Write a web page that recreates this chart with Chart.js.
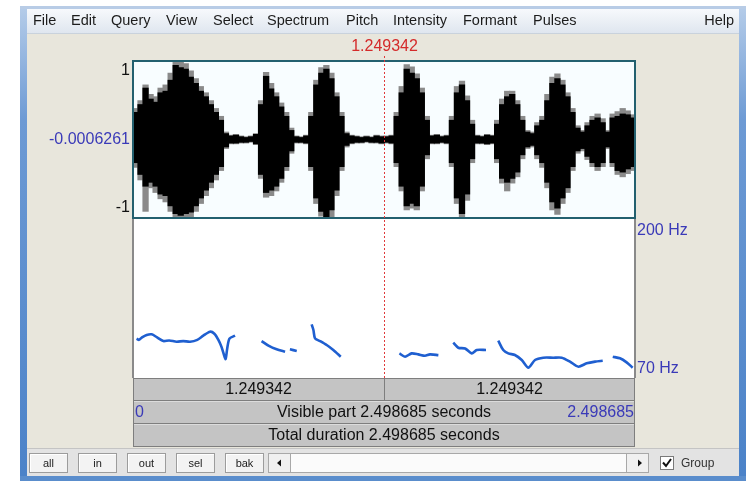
<!DOCTYPE html>
<html>
<head>
<meta charset="utf-8">
<script src="https://cdn.jsdelivr.net/npm/chart.js@4.4.1/dist/chart.umd.min.js"></script>
<style>
  html, body { margin: 0; padding: 0; background: #ffffff; }
  canvas { display: block; }
</style>
</head>
<body>
<canvas id="praat" width="748" height="482"></canvas>
<script>
// ---- Sound & pitch data -------------------------------------------------
const totalDuration = 2.498685;      // seconds
const cursorTime = 1.249342;         // seconds
const waveCentreValue = -0.0006261;  // value at the middle of the waveform panel
const waveBinWidth = 0.025;          // seconds per amplitude column
const pitchFloor = 70;               // Hz
const pitchCeiling = 200;            // Hz

// Dense (black) amplitude envelope per column
const waveHi = [
  0.35, 0.45, 0.66, 0.52, 0.48, 0.60, 0.62, 0.76, 0.95, 0.92,
  0.90, 0.80, 0.72, 0.62, 0.55, 0.45, 0.35, 0.25, 0.08, 0.05,
  0.06, 0.04, 0.03, 0.04, 0.07, 0.45, 0.81, 0.65, 0.55, 0.42,
  0.30, 0.12, 0.04, 0.03, 0.05, 0.30, 0.70, 0.85, 0.90, 0.78,
  0.55, 0.30, 0.08, 0.05, 0.04, 0.03, 0.04, 0.03, 0.05, 0.04,
  0.04, 0.05, 0.30, 0.60, 0.90, 0.85, 0.78, 0.60, 0.25, 0.05,
  0.06, 0.04, 0.05, 0.25, 0.60, 0.70, 0.50, 0.20, 0.05, 0.04,
  0.06, 0.05, 0.20, 0.45, 0.55, 0.58, 0.45, 0.25, 0.10, 0.08,
  0.18, 0.25, 0.50, 0.72, 0.78, 0.70, 0.55, 0.35, 0.15, 0.10,
  0.18, 0.25, 0.28, 0.22, 0.10, 0.28, 0.30, 0.33, 0.32, 0.28
];
const waveLo = [
  -0.30, -0.45, -0.60, -0.55, -0.60, -0.70, -0.72, -0.85, -0.95, -0.97,
  -0.95, -0.93, -0.85, -0.75, -0.65, -0.55, -0.45, -0.35, -0.10, -0.05,
  -0.05, -0.04, -0.04, -0.03, -0.06, -0.45, -0.68, -0.65, -0.60, -0.50,
  -0.35, -0.15, -0.04, -0.04, -0.05, -0.35, -0.75, -0.92, -1.00, -0.90,
  -0.65, -0.35, -0.08, -0.05, -0.04, -0.04, -0.03, -0.04, -0.04, -0.05,
  -0.04, -0.05, -0.30, -0.60, -0.85, -0.82, -0.85, -0.60, -0.20, -0.05,
  -0.05, -0.04, -0.05, -0.30, -0.75, -0.95, -0.70, -0.25, -0.05, -0.05,
  -0.06, -0.05, -0.25, -0.50, -0.55, -0.50, -0.42, -0.20, -0.10, -0.08,
  -0.20, -0.30, -0.55, -0.80, -0.88, -0.75, -0.62, -0.35, -0.15, -0.12,
  -0.22, -0.30, -0.35, -0.30, -0.10, -0.30, -0.40, -0.42, -0.38, -0.35
];
// Outer (grey) peaks per column
const peakHi = [
  0.40, 0.50, 0.70, 0.58, 0.55, 0.66, 0.70, 0.85, 1.00, 1.00,
  0.97, 0.88, 0.78, 0.68, 0.60, 0.50, 0.40, 0.30, 0.10, 0.06,
  0.07, 0.05, 0.04, 0.05, 0.08, 0.50, 0.86, 0.72, 0.60, 0.47,
  0.35, 0.15, 0.05, 0.04, 0.06, 0.35, 0.76, 0.92, 0.95, 0.85,
  0.60, 0.35, 0.10, 0.06, 0.05, 0.04, 0.05, 0.04, 0.06, 0.05,
  0.05, 0.06, 0.35, 0.68, 0.96, 0.93, 0.84, 0.66, 0.30, 0.06,
  0.07, 0.05, 0.06, 0.30, 0.68, 0.75, 0.56, 0.25, 0.06, 0.05,
  0.07, 0.06, 0.25, 0.52, 0.62, 0.62, 0.50, 0.30, 0.12, 0.10,
  0.22, 0.30, 0.58, 0.80, 0.84, 0.76, 0.60, 0.40, 0.18, 0.12,
  0.22, 0.30, 0.33, 0.27, 0.12, 0.33, 0.36, 0.40, 0.37, 0.32
];
const peakLo = [
  -0.36, -0.52, -0.92, -0.62, -0.68, -0.76, -0.80, -0.92, -1.00, -1.00,
  -1.00, -1.00, -0.92, -0.82, -0.72, -0.62, -0.52, -0.40, -0.12, -0.06,
  -0.06, -0.05, -0.05, -0.04, -0.07, -0.50, -0.74, -0.72, -0.66, -0.55,
  -0.40, -0.18, -0.05, -0.05, -0.06, -0.40, -0.82, -0.98, -1.00, -1.00,
  -0.72, -0.40, -0.10, -0.06, -0.05, -0.05, -0.04, -0.05, -0.05, -0.06,
  -0.05, -0.06, -0.35, -0.66, -0.90, -0.88, -0.90, -0.66, -0.25, -0.06,
  -0.06, -0.05, -0.06, -0.35, -0.82, -1.00, -0.78, -0.30, -0.06, -0.06,
  -0.07, -0.06, -0.30, -0.56, -0.66, -0.56, -0.48, -0.25, -0.12, -0.10,
  -0.25, -0.36, -0.62, -0.90, -0.96, -0.82, -0.68, -0.40, -0.18, -0.15,
  -0.26, -0.35, -0.40, -0.35, -0.12, -0.35, -0.45, -0.48, -0.44, -0.40
];

// Pitch contours (voiced stretches), time in s and F0 in Hz
const pitchTimes = [
  [0.018, 0.030, 0.045, 0.068, 0.093, 0.120, 0.151, 0.180, 0.217, 0.250, 0.284, 0.320,
   0.350, 0.383, 0.405, 0.425, 0.440, 0.453, 0.461, 0.469, 0.480, 0.508],
  [0.640, 0.674, 0.715, 0.757],
  [0.781, 0.815],
  [0.889, 0.898, 0.906, 0.931, 0.964, 0.997, 1.034],
  [1.326, 1.354, 1.387, 1.420, 1.453, 1.478, 1.520],
  [1.594, 1.619, 1.653, 1.686, 1.711, 1.757],
  [1.818, 1.843, 1.868, 1.901, 1.935, 1.968, 2.001, 2.042, 2.092, 2.134, 2.175, 2.217,
   2.258, 2.300, 2.338],
  [2.388, 2.424, 2.457, 2.487]
];
const pitchHz = [
  [102, 101, 103, 105, 105.5, 103, 100, 100.5, 99.5, 100, 99.5, 101,
   104.4, 107.6, 106, 101, 95.5, 88.7, 85.4, 94, 102, 104.4],
  [100, 96.3, 93.3, 91.4],
  [93.3, 92],
  [113.6, 109, 102.2, 100, 96.8, 92.75, 87.3],
  [90, 87.3, 90, 89.2, 88.1, 89.2, 88.6],
  [98.7, 94.6, 94, 90, 92.75, 92.75],
  [100.3, 92.75, 90, 88.7, 84.6, 78.4, 84.6, 86.5, 86.5, 86.5, 83.3, 79.2,
   81.9, 83.3, 84],
  [87.3, 86, 82.7, 78.4]
];

// Texts of the editor window
const menuItems = ['File', 'Edit', 'Query', 'View', 'Select', 'Spectrum', 'Pitch', 'Intensity', 'Formant', 'Pulses'];
const menuX = [33, 71, 111, 166, 213, 267, 346, 393, 463, 533];
const selectionParts = ['1.249342', '1.249342'];
const visibleText = 'Visible part 2.498685 seconds';
const totalText = 'Total duration 2.498685 seconds';
const buttonLabels = ['all', 'in', 'out', 'sel', 'bak'];

// ---- Panel geometry -----------------------------------------------------
const box = { left: 133, right: 635, waveTop: 61, waveBottom: 218, pitchBottom: 378 };
const W = 748, H = 482;
const FONT = '"Liberation Sans", Arial, sans-serif';

// Both vertical scales share one chart area; each one is stretched so that its
// own range fills only its panel (waveform on top, pitch below).
const waveUnitsPerPx = 2 / (box.waveBottom - box.waveTop);
const yWaveMin = 1 - (box.pitchBottom - box.waveTop) * waveUnitsPerPx;
const hzPerPx = (pitchCeiling - pitchFloor) / (box.pitchBottom - box.waveBottom);
const yPitchMax = pitchCeiling + (box.waveBottom - box.waveTop) * hzPerPx;

const waveTimes = waveHi.map((_, i) => (i + 0.5) * waveBinWidth);
const columns = (lo, hi) => waveTimes.map((t, i) => ({ x: t, y: [lo[i], hi[i]] }));

const pitchSets = pitchTimes.map((ts, k) => ({
  type: 'line',
  data: ts.map((t, i) => ({ x: t, y: pitchHz[k][i] })),
  xAxisID: 'x',
  yAxisID: 'yPitch',
  borderColor: '#1f5fd0',
  borderWidth: 2.6,
  pointRadius: 0,
  tension: 0.25,
  order: 0
}));

// ---- Window chrome --------------------------------------------------------
function drawWindow(ctx) {
  ctx.save();
  ctx.fillStyle = '#ffffff';
  ctx.fillRect(0, 0, W, H);

  // blue frame
  const fg = ctx.createLinearGradient(0, 0, 0, H);
  fg.addColorStop(0, '#b9cfea');
  fg.addColorStop(0.25, '#6d9ad4');
  fg.addColorStop(1, '#4b82c8');
  ctx.fillStyle = fg;
  ctx.fillRect(20, 6, 7, 475);
  ctx.fillRect(739, 6, 7, 475);
  ctx.fillStyle = '#b8cce6';
  ctx.fillRect(20, 6, 726, 3);
  ctx.fillStyle = '#5a8dcc';
  ctx.fillRect(20, 476, 726, 5);

  // menu bar
  const mg = ctx.createLinearGradient(0, 9, 0, 33);
  mg.addColorStop(0, '#f7f9fc');
  mg.addColorStop(1, '#dfe6ef');
  ctx.fillStyle = mg;
  ctx.fillRect(27, 9, 712, 24);
  ctx.fillStyle = '#c9d2dc';
  ctx.fillRect(27, 33, 712, 1);

  // client area
  ctx.fillStyle = '#e8e6dc';
  ctx.fillRect(27, 34, 712, 414);

  // button strip
  ctx.fillStyle = '#e3e3e3';
  ctx.fillRect(27, 448, 712, 28);
  ctx.fillStyle = '#c4c4c4';
  ctx.fillRect(27, 448, 712, 1);

  // panel backgrounds
  ctx.fillStyle = '#f8fdff';
  ctx.fillRect(box.left, box.waveTop, box.right - box.left, box.waveBottom - box.waveTop);
  ctx.fillStyle = '#ffffff';
  ctx.fillRect(box.left, box.waveBottom, box.right - box.left, box.pitchBottom - box.waveBottom);
  ctx.restore();
}

function drawMenu(ctx) {
  ctx.save();
  ctx.font = '14.5px ' + FONT;
  ctx.fillStyle = '#1c1c1c';
  ctx.textBaseline = 'middle';
  ctx.textAlign = 'left';
  menuItems.forEach((m, i) => ctx.fillText(m, menuX[i], 21));
  ctx.textAlign = 'right';
  ctx.fillText('Help', 734, 21);
  ctx.restore();
}

function drawRows(ctx) {
  const L = box.left, R = box.right, mid = (L + R) / 2;
  ctx.save();
  ctx.fillStyle = '#c4c4c4';
  ctx.fillRect(L, box.pitchBottom, R - L, 69);
  ctx.strokeStyle = '#7e7e7e';
  ctx.lineWidth = 1;
  ctx.beginPath();
  [378.5, 400.5, 423.5, 446.5].forEach(y => { ctx.moveTo(L, y); ctx.lineTo(R, y); });
  ctx.moveTo(L + 0.5, 378); ctx.lineTo(L + 0.5, 447);
  ctx.moveTo(R - 0.5, 378); ctx.lineTo(R - 0.5, 447);
  ctx.moveTo(384.5, 378); ctx.lineTo(384.5, 400);
  ctx.stroke();
  ctx.strokeStyle = '#dcdcdc';
  ctx.beginPath();
  [401.5, 424.5].forEach(y => { ctx.moveTo(L + 1, y); ctx.lineTo(R - 1, y); });
  ctx.stroke();

  ctx.font = '16px ' + FONT;
  ctx.textBaseline = 'middle';
  ctx.textAlign = 'center';
  ctx.fillStyle = '#111111';
  ctx.fillText(selectionParts[0], (L + 384) / 2, 390);
  ctx.fillText(selectionParts[1], (384 + R) / 2, 390);
  ctx.fillText(visibleText, mid, 412.5);
  ctx.fillText(totalText, mid, 436);
  ctx.fillStyle = '#3a3ab8';
  ctx.textAlign = 'left';
  ctx.fillText('0', L + 2, 412.5);
  ctx.textAlign = 'right';
  ctx.fillText(String(totalDuration), R - 1, 412.5);
  ctx.restore();
}

function drawButtons(ctx) {
  ctx.save();
  const bx = [29, 78, 127, 176, 225];
  ctx.font = '11px ' + FONT;
  ctx.textAlign = 'center';
  ctx.textBaseline = 'middle';
  bx.forEach((x, i) => {
    ctx.fillStyle = '#f3f3f3';
    ctx.fillRect(x, 453, 39, 20);
    ctx.strokeStyle = '#9c9c9c';
    ctx.strokeRect(x + 0.5, 453.5, 38, 19);
    ctx.strokeStyle = '#ffffff';
    ctx.beginPath();
    ctx.moveTo(x + 1.5, 472); ctx.lineTo(x + 1.5, 454.5); ctx.lineTo(x + 38, 454.5);
    ctx.stroke();
    ctx.fillStyle = '#222222';
    ctx.fillText(buttonLabels[i], x + 19.5, 463.5);
  });

  // scroll bar
  ctx.fillStyle = '#f0f0f0';
  ctx.fillRect(268, 453, 22, 20);
  ctx.fillRect(627, 453, 22, 20);
  ctx.fillStyle = '#fbfbfb';
  ctx.fillRect(290, 453, 337, 20);
  ctx.strokeStyle = '#a8a8a8';
  ctx.strokeRect(268.5, 453.5, 380, 19);
  ctx.beginPath();
  ctx.moveTo(290.5, 453); ctx.lineTo(290.5, 473);
  ctx.moveTo(626.5, 453); ctx.lineTo(626.5, 473);
  ctx.stroke();
  ctx.fillStyle = '#111111';
  ctx.beginPath();
  ctx.moveTo(281, 459.5); ctx.lineTo(277, 463); ctx.lineTo(281, 466.5); ctx.closePath();
  ctx.moveTo(638, 459.5); ctx.lineTo(642, 463); ctx.lineTo(638, 466.5); ctx.closePath();
  ctx.fill();

  // Group checkbox
  ctx.fillStyle = '#ffffff';
  ctx.fillRect(660, 456, 14, 14);
  ctx.strokeStyle = '#7a7a7a';
  ctx.strokeRect(660.5, 456.5, 13, 13);
  ctx.strokeStyle = '#111111';
  ctx.lineWidth = 2;
  ctx.beginPath();
  ctx.moveTo(663, 462.5); ctx.lineTo(666, 466); ctx.lineTo(671, 459);
  ctx.stroke();
  ctx.fillStyle = '#333333';
  ctx.font = '12px ' + FONT;
  ctx.textAlign = 'left';
  ctx.fillText('Group', 681, 463.5);
  ctx.restore();
}

const praatFrame = {
  id: 'praatFrame',
  beforeDraw(chart) {
    drawWindow(chart.ctx);
  },
  afterDatasetsDraw(chart) {
    const ctx = chart.ctx;
    const xs = chart.scales.x, yw = chart.scales.yWave, yp = chart.scales.yPitch;
    ctx.save();
    // pitch panel sides
    ctx.strokeStyle = '#8a8a8a';
    ctx.lineWidth = 2;
    ctx.beginPath();
    ctx.moveTo(box.left, box.waveBottom); ctx.lineTo(box.left, box.pitchBottom);
    ctx.moveTo(box.right, box.waveBottom); ctx.lineTo(box.right, box.pitchBottom);
    ctx.stroke();
    // waveform box
    ctx.strokeStyle = '#23606f';
    ctx.lineWidth = 2;
    ctx.strokeRect(box.left, yw.getPixelForValue(1), box.right - box.left,
      yw.getPixelForValue(-1) - yw.getPixelForValue(1));
    // cursor
    const cx = Math.round(xs.getPixelForValue(cursorTime)) + 0.5;
    ctx.strokeStyle = '#e03a3a';
    ctx.lineWidth = 1;
    ctx.setLineDash([2, 2]);
    ctx.beginPath();
    ctx.moveTo(cx, 56); ctx.lineTo(cx, box.pitchBottom);
    ctx.stroke();
    ctx.setLineDash([]);

    // axis texts
    ctx.font = '16px ' + FONT;
    ctx.fillStyle = '#d42a2a';
    ctx.textAlign = 'center';
    ctx.textBaseline = 'middle';
    ctx.fillText(cursorTime.toFixed(6), cx, 47);

    ctx.textAlign = 'right';
    ctx.fillStyle = '#111111';
    ctx.textBaseline = 'top';
    ctx.fillText('1', 130, yw.getPixelForValue(1) + 2);
    ctx.textBaseline = 'bottom';
    ctx.fillText('-1', 130, yw.getPixelForValue(-1) - 2);
    ctx.fillStyle = '#3a3ab8';
    ctx.textBaseline = 'middle';
    ctx.fillText(String(waveCentreValue), 130, yw.getPixelForValue(waveCentreValue));

    ctx.textAlign = 'left';
    ctx.textBaseline = 'top';
    ctx.fillText(pitchCeiling + ' Hz', 637, yp.getPixelForValue(pitchCeiling) + 5);
    ctx.textBaseline = 'bottom';
    ctx.fillText(pitchFloor + ' Hz', 637, yp.getPixelForValue(pitchFloor) - 1);
    ctx.restore();

    drawMenu(ctx);
    drawRows(ctx);
    drawButtons(ctx);
  }
};

new Chart(document.getElementById('praat'), {
  type: 'bar',
  data: {
    datasets: [
      ...pitchSets,
      {
        data: columns(waveLo, waveHi),
        xAxisID: 'x', yAxisID: 'yWave',
        backgroundColor: '#000000',
        borderWidth: 0,
        grouped: false,
        barPercentage: 1.25,
        categoryPercentage: 1,
        order: 1
      },
      {
        data: columns(peakLo, peakHi),
        xAxisID: 'x', yAxisID: 'yWave',
        backgroundColor: '#8a8a8a',
        borderWidth: 0,
        grouped: false,
        barPercentage: 1.25,
        categoryPercentage: 1,
        order: 2
      }
    ]
  },
  options: {
    responsive: false,
    devicePixelRatio: 1,
    animation: false,
    layout: {
      padding: { left: box.left, right: W - box.right, top: box.waveTop, bottom: H - box.pitchBottom }
    },
    plugins: { legend: { display: false }, tooltip: { enabled: false } },
    scales: {
      x: { type: 'linear', min: 0, max: totalDuration, offset: false, display: false },
      yWave: { type: 'linear', min: yWaveMin, max: 1, display: false },
      yPitch: { type: 'linear', min: pitchFloor, max: yPitchMax, display: false }
    }
  },
  plugins: [praatFrame]
});
</script>
</body>
</html>
